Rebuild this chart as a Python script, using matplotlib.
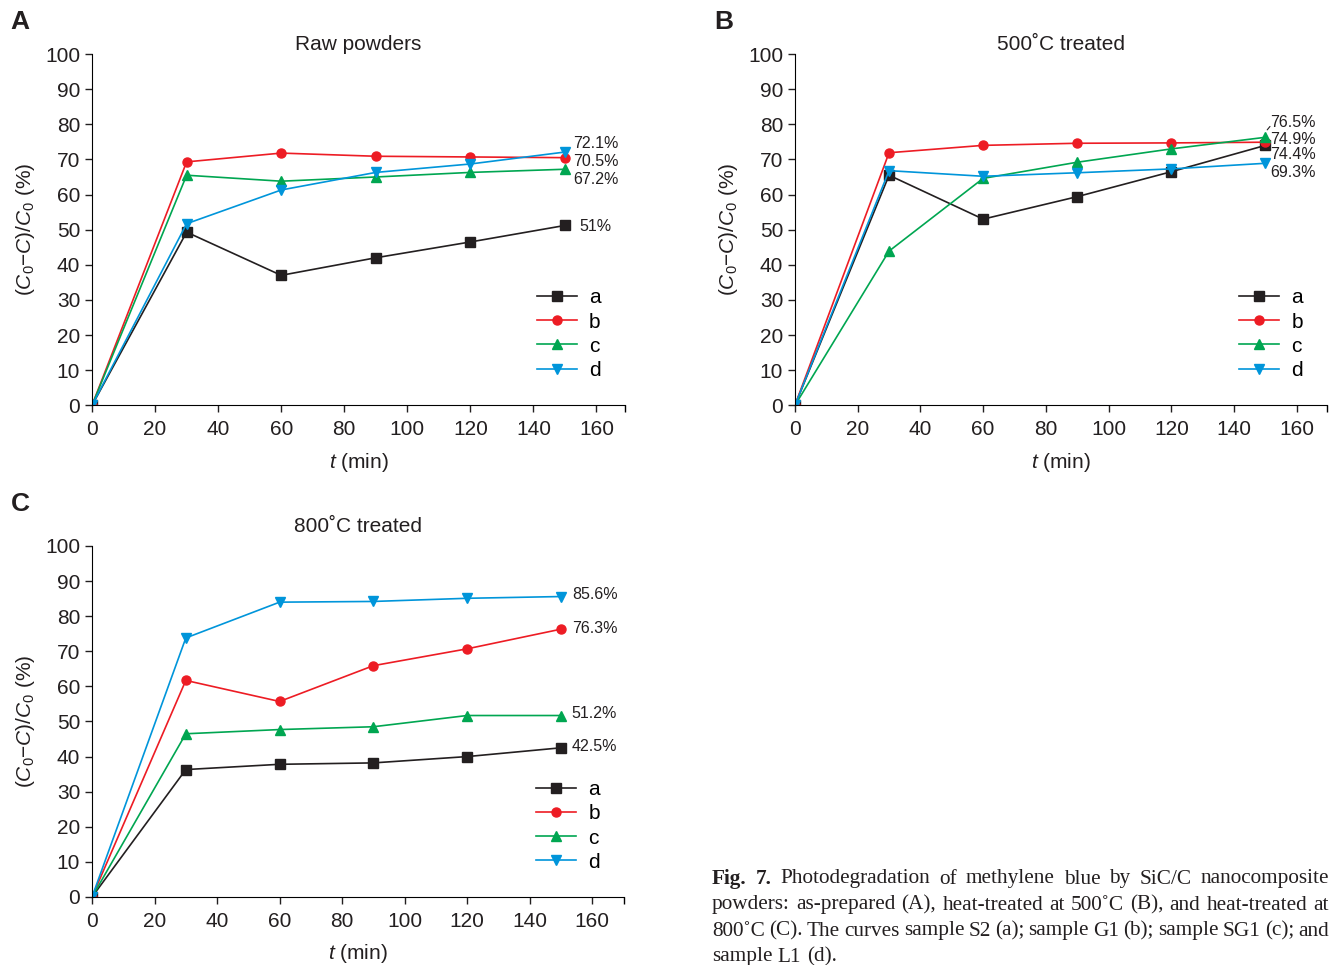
import matplotlib
matplotlib.use('Agg')
import matplotlib.pyplot as plt
from matplotlib import font_manager
import numpy as np

## fonts
names = set(f.name for f in font_manager.fontManager.ttflist)
sans = 'Liberation Sans Narrow' if 'Liberation Sans Narrow' in names else 'Liberation Sans'
plt.rcParams['font.family'] = [sans, 'DejaVu Sans']
plt.rcParams['mathtext.fontset'] = 'custom'
plt.rcParams['mathtext.it'] = sans + ':italic'
plt.rcParams['mathtext.rm'] = sans

## data
t_min = [0, 30, 60, 90, 120, 150]
series_names = ['a', 'b', 'c', 'd']

raw_a = [0, 49.3, 37.0, 42.0, 46.5, 51.2]
raw_b = [0, 69.3, 71.8, 70.9, 70.7, 70.5]
raw_c = [0, 65.5, 63.8, 65.0, 66.3, 67.2]
raw_d = [0, 51.7, 61.3, 66.3, 68.7, 72.1]

t500_a = [0, 65.5, 53.0, 59.4, 66.5, 74.0]
t500_b = [0, 71.9, 74.0, 74.6, 74.7, 74.9]
t500_c = [0, 43.9, 64.6, 69.2, 73.0, 76.3]
t500_d = [0, 66.8, 65.2, 66.2, 67.3, 68.9]

t800_a = [0, 36.3, 37.8, 38.2, 40.0, 42.5]
t800_b = [0, 61.7, 55.7, 65.9, 70.7, 76.3]
t800_c = [0, 46.5, 47.7, 48.5, 51.7, 51.7]
t800_d = [0, 73.8, 84.0, 84.2, 85.1, 85.6]

raw_labels = ['51%', '70.5%', '67.2%', '72.1%']
t500_labels = ['74.4%', '74.9%', '76.5%', '69.3%']
t800_labels = ['42.5%', '76.3%', '51.2%', '85.6%']

caption = [[('Fig. 7.', 'bold'), ('Photodegradation of methylene blue by SiC/C nanocomposite', 'normal')],
           [('powders: as-prepared (A), heat-treated at 500˚C (B), and heat-treated at', 'normal')],
           [('800˚C (C). The curves sample S2 (a); sample G1 (b); sample SG1 (c); and', 'normal')],
           [('sample L1 (d).', 'normal')]]

## style / layout
colors = ['#231f20', '#ed1c24', '#00a651', '#0095da']
markers = ['s', 'o', '^', 'v']
lnw = 1.2
msz = 6.5
ftsz = 15

# text label positions (data coords) for the end values
raw_lab_xy = [(154.5, 51.0), (152.5, 69.5), (152.5, 64.4), (152.5, 74.6)]
t500_lab_xy = [(151.5, 71.5), (151.5, 75.8), (151.5, 80.6), (151.5, 66.4)]
t800_lab_xy = [(153.5, 43.0), (153.5, 76.4), (153.5, 52.4), (153.5, 86.3)]

fig = plt.figure(figsize=(13.32, 9.65), dpi=100)

def panel(rect, xmax, data, labels, lab_xy, title, title_pad, letter, letter_xy):
    ax = fig.add_axes(rect)
    for i, y in enumerate(data):
        ax.plot(t_min, y, c=colors[i], marker=markers[i], markersize=msz,
                linewidth=lnw, label=series_names[i], zorder=2 + i * 0.1)
    for i in range(4):
        ax.text(lab_xy[i][0], lab_xy[i][1], labels[i], fontsize=11.5,
                ha='left', va='center', color='#231f20')
    ax.set_xlim(0, xmax)
    ax.set_ylim(0, 100)
    ax.set_xticks(np.arange(0, 161, 20))
    ax.set_yticks(np.arange(0, 101, 10))
    ax.set_xticks([xmax], minor=True)
    ax.spines['top'].set_visible(False)
    ax.spines['right'].set_visible(False)
    ax.tick_params(labelsize=ftsz, length=5, width=1, direction='out', colors='#231f20')
    ax.tick_params(axis='x', pad=5.5)
    ax.tick_params(which='minor', length=5, width=1)
    ax.set_xlabel(r'$t$ (min)', fontsize=ftsz, labelpad=8.5, color='#231f20')
    ax.set_ylabel(r'($C_{\mathit{0}}$−$C$)/$C_{\mathit{0}}$ (%)', fontsize=ftsz,
                  labelpad=6, color='#231f20')
    ax.set_title(title, fontsize=ftsz, pad=title_pad, color='#231f20')
    ax.legend(loc='upper left', bbox_to_anchor=(0.835, 0.333), frameon=False,
              fontsize=ftsz, handlelength=1.9, handletextpad=0.6,
              labelspacing=0.25, borderpad=0, borderaxespad=0)
    fig.text(letter_xy[0], letter_xy[1], letter, fontsize=19, fontweight='bold',
             ha='left', va='top', color='#231f20')
    return ax

axA = panel([0.0691, 0.580, 0.400, 0.364], 169,
            [raw_a, raw_b, raw_c, raw_d], raw_labels, raw_lab_xy,
            'Raw powders', 3, 'A', (0.008, 0.990))
axB = panel([0.5968, 0.580, 0.3994, 0.364], 169.6,
            [t500_a, t500_b, t500_c, t500_d], t500_labels, t500_lab_xy,
            '500˚C treated', 3, 'B', (0.536, 0.990))
# leader line to the 76.5% label
axB.annotate('', xy=(150, t500_c[-1] + 1.5), xytext=(152, 80.0),
             arrowprops=dict(arrowstyle='-', color='#231f20', lw=0.8))
axC = panel([0.0691, 0.0705, 0.3994, 0.3637], 170.2,
            [t800_a, t800_b, t800_c, t800_d], t800_labels, t800_lab_xy,
            '800˚C treated', 10, 'C', (0.008, 0.490))

## caption, justified between x0 and x1 (pixels)
cap_font = 'Liberation Serif'
cap_sz = 15.3
x0, x1 = 712, 1329
renderer = fig.canvas.get_renderer()
for k, line in enumerate(caption):
    ypix = 879 + 26 * k
    words = []
    for chunk, weight in line:
        for w in chunk.split(' '):
            words.append((w, weight))
    arts = []
    for w, weight in words:
        arts.append(fig.text(0, 1 - ypix / 965, w, fontsize=cap_sz, family=cap_font,
                             fontweight=weight, ha='left', va='center', color='#231f20'))
    widths = [a.get_window_extent(renderer).width for a in arts]
    if k < len(caption) - 1:
        gap = (x1 - x0 - sum(widths)) / (len(arts) - 1)
    else:
        gap = cap_sz * 0.25 * 100 / 72
    x = x0
    for a, wd in zip(arts, widths):
        a.set_x(x / 1332)
        x += wd + gap

plt.savefig('out.png', dpi=100)
